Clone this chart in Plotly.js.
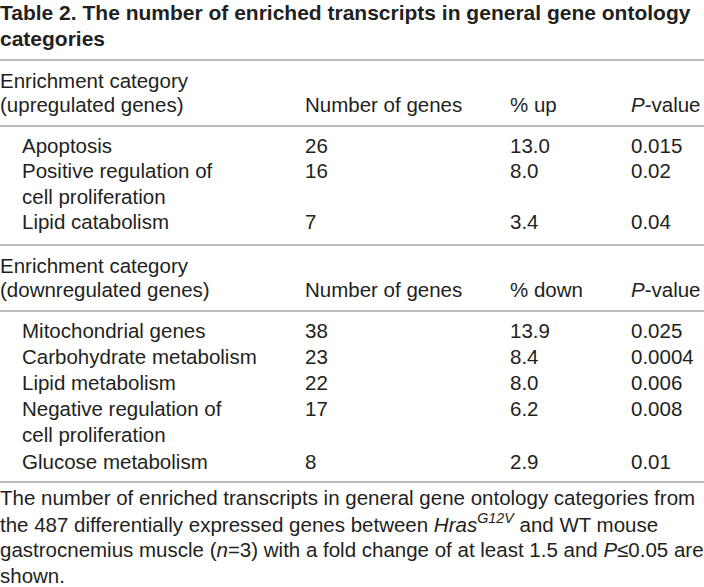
<!DOCTYPE html>
<html>
<head>
<meta charset="utf-8">
<script src="https://cdn.plot.ly/plotly-3.0.1.min.js"></script>
<style>html,body{margin:0;padding:0;background:#fff;}#chart{width:704px;height:587px;}</style>
</head>
<body>
<div id="chart"></div>
<script>
// ---- data ----
const titleLines = ["Table 2. The number of enriched transcripts in general gene ontology", "categories"];
const upHeader = ["Enrichment category", "(upregulated genes)"];
const downHeader = ["Enrichment category", "(downregulated genes)"];
const colHeadersUp = ["Number of genes", "% up", "<i>P</i>-value"];
const colHeadersDown = ["Number of genes", "% down", "<i>P</i>-value"];
const upCategories = ["Apoptosis", "Positive regulation of<br>cell proliferation", "Lipid catabolism"];
const upGenes = [26, 16, 7];
const upPct = ["13.0", "8.0", "3.4"];
const upP = ["0.015", "0.02", "0.04"];
const downCategories = ["Mitochondrial genes", "Carbohydrate metabolism", "Lipid metabolism", "Negative regulation of<br>cell proliferation", "Glucose metabolism"];
const downGenes = [38, 23, 22, 17, 8];
const downPct = ["13.9", "8.4", "8.0", "6.2", "2.9"];
const downP = ["0.025", "0.0004", "0.006", "0.008", "0.01"];
const footnoteLines = [
  "The number of enriched transcripts in general gene ontology categories from",
  "the 487 differentially expressed genes between <i>Hras</i><sup><i>G12V</i></sup> and WT mouse",
  "gastrocnemius muscle (<i>n</i>=3) with a fold change of at least 1.5 and <i>P</i>≤0.05 are",
  "shown."
];

// ---- layout constants ----
const TXT = '#231f20';
const LINE = '#a3a3a3';
const FONT = 'Liberation Sans, Arial, sans-serif';
const FS = 20.5;
const colX = [0, 22, 305, 510, 631];
const annotations = [];
const shapes = [];
function txt(x, y, t, opts) {
  annotations.push(Object.assign({
    x: x, y: y, xref: 'x', yref: 'y', text: t, showarrow: false,
    xanchor: 'left', yanchor: 'middle', align: 'left', xshift: -2,
    font: {family: FONT, size: FS, color: TXT}
  }, opts || {}));
}
function hline(y) {
  shapes.push({type: 'line', xref: 'x', yref: 'y', x0: 0, x1: 704, y0: y, y1: y,
    line: {color: LINE, width: 1.6}});
}

// title
titleLines.forEach((t, i) => txt(0, 12 + i * 26.5, '<b>' + t + '</b>',
  {font: {family: FONT, size: 21, color: TXT}}));
hline(60);

function section(y0, header, colHeads, cats, genes, pct, pv, pitch) {
  txt(colX[0], y0, header[0]);
  txt(colX[0], y0 + 24, header[1]);
  colHeads.forEach((h, j) => txt(colX[2 + j], y0 + 24, h));
  hline(y0 + 46);
  let y = y0 + 65;
  cats.forEach((c, i) => {
    const parts = c.split('<br>');
    parts.forEach((p, k) => txt(colX[1], y + k * pitch, p));
    txt(colX[2], y, String(genes[i]));
    txt(colX[3], y, pct[i]);
    txt(colX[4], y, pv[i]);
    y += parts.length * pitch;
  });
}
section(80, upHeader, colHeadersUp, upCategories, upGenes, upPct, upP, 25.6);
hline(245);
section(265, downHeader, colHeadersDown, downCategories, downGenes, downPct, downP, 26.2);
hline(482);
footnoteLines.forEach((t, i) => txt(0, 497 + i * 26.3, t));

Plotly.newPlot('chart', [{x: [], y: [], type: 'scatter', hoverinfo: 'skip'}], {
  width: 704, height: 587,
  margin: {l: 0, r: 0, t: 0, b: 0},
  paper_bgcolor: '#fff', plot_bgcolor: '#fff',
  showlegend: false,
  xaxis: {range: [0, 704], visible: false, fixedrange: true},
  yaxis: {range: [587, 0], visible: false, fixedrange: true},
  annotations: annotations,
  shapes: shapes
}, {staticPlot: true, displayModeBar: false});
</script>
</body>
</html>
